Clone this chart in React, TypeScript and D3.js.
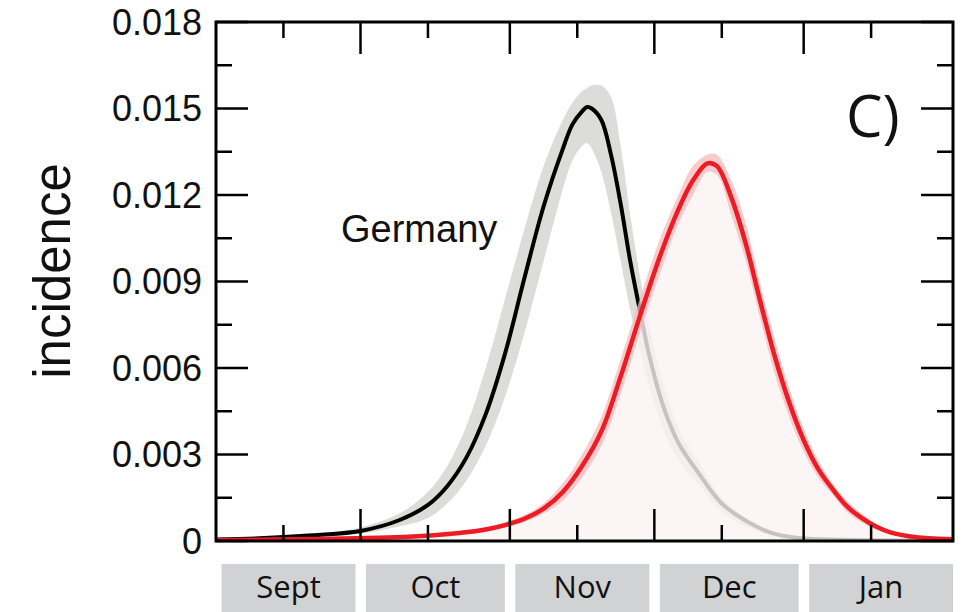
import React from "react";
import * as d3 from "d3";

// ---- data (days since 1 Sept) ----
const germanyDays = [0, 10, 20, 30, 38, 44, 48, 52, 56, 60, 64, 68, 72, 74, 76, 77, 78, 80, 82, 84, 86, 88, 90, 93, 96, 100, 105, 110, 115, 120, 130, 140, 153];
const germanyMid = [0.00005, 0.0001, 0.0002, 0.00035, 0.00072, 0.00125, 0.0019, 0.0029, 0.0044, 0.0065, 0.0091, 0.0116, 0.0136, 0.01445, 0.0149, 0.01505, 0.015, 0.0146, 0.0134, 0.0117, 0.0097, 0.008, 0.0064, 0.0046, 0.0034, 0.0024, 0.0013, 0.0007, 0.0003, 0.00012, 0.00004, 0.00002, 0.00001];
const germanyHi = [0.00008, 0.00013, 0.00024, 0.00047, 0.00095, 0.0017, 0.0026, 0.004, 0.006, 0.0084, 0.0108, 0.013, 0.0146, 0.0152, 0.0156, 0.0157, 0.0158, 0.0158, 0.0154, 0.0137, 0.0113, 0.0092, 0.0074, 0.0054, 0.0039, 0.0028, 0.0015, 0.0008, 0.00035, 0.00015, 0.00006, 0.00003, 0.00001];
const germanyLo = [0.00003, 0.00007, 0.00014, 0.00025, 0.0005, 0.0008, 0.0013, 0.0021, 0.0033, 0.005, 0.0072, 0.0097, 0.0122, 0.0132, 0.0137, 0.0138, 0.0136, 0.0128, 0.0114, 0.0097, 0.008, 0.0066, 0.0053, 0.0038, 0.0028, 0.002, 0.001, 0.0005, 0.0002, 0.00008, 0.00003, 0.00001, 0.00001];

const otherDays = [0, 20, 40, 50, 56, 60, 64, 68, 72, 76, 80, 84, 88, 92, 96, 99, 102, 104, 107, 110, 113, 116, 119, 122, 125, 128, 131, 134, 137, 140, 145, 150, 153];
const otherMid = [0.00003, 0.00007, 0.00015, 0.00027, 0.0004, 0.00055, 0.00077, 0.00112, 0.0017, 0.0026, 0.0038, 0.0057, 0.0078, 0.0098, 0.0115, 0.0125, 0.0131, 0.013, 0.0119, 0.0103, 0.0083, 0.0064, 0.0048, 0.0035, 0.0025, 0.0018, 0.0012, 0.0008, 0.0005, 0.0003, 0.00014, 0.00008, 0.00006];
const otherHi = [0.00004, 0.00009, 0.00019, 0.00033, 0.00048, 0.00065, 0.0009, 0.0013, 0.002, 0.003, 0.0043, 0.0063, 0.0084, 0.0104, 0.012, 0.013, 0.0134, 0.0134, 0.0125, 0.011, 0.0089, 0.007, 0.0053, 0.0039, 0.0028, 0.002, 0.0014, 0.00095, 0.0006, 0.00035, 0.00017, 0.0001, 0.00008];
const otherLo = [0.00002, 0.00005, 0.00012, 0.00022, 0.00033, 0.00046, 0.00065, 0.00095, 0.0014, 0.0022, 0.0033, 0.0051, 0.0072, 0.0092, 0.011, 0.012, 0.0128, 0.0127, 0.0113, 0.0097, 0.0077, 0.0058, 0.0043, 0.0031, 0.0022, 0.0016, 0.001, 0.00065, 0.0004, 0.00025, 0.00011, 0.00006, 0.00005];

const yTicks = [0, 0.003, 0.006, 0.009, 0.012, 0.015, 0.018];
const yTickLabels = ["0", "0.003", "0.006", "0.009", "0.012", "0.015", "0.018"];
const yMinorTicks = [0.0015, 0.0045, 0.0075, 0.0105, 0.0135, 0.0165];
const monthLabels = ["Sept", "Oct", "Nov", "Dec", "Jan"];

const seasonStart = new Date(Date.UTC(2009, 8, 1));
const seasonEnd = new Date(Date.UTC(2010, 1, 1));

const W = 969, H = 612;
const M = { left: 216, right: 953, top: 22, bottom: 541 };

export default function App() {
  const x = d3.scaleUtc().domain([seasonStart, seasonEnd]).range([M.left, M.right]);
  const y = d3.scaleLinear().domain([0, 0.018]).range([M.bottom, M.top]);
  const dx = (d: number) => x(d3.utcDay.offset(seasonStart, d));

  const curve = d3.curveCatmullRom.alpha(0.5);
  const band = (days: number[], lo: number[], hi: number[]) =>
    d3.area<number>().x((_, i) => dx(days[i])).y0((_, i) => y(lo[i])).y1((_, i) => y(hi[i])).curve(curve)(days)!;
  const line = (days: number[], v: number[]) =>
    d3.line<number>().x((_, i) => dx(days[i])).y((_, i) => y(v[i])).curve(curve)(days)!;
  const fillArea = d3.area<number>().x((_, i) => dx(otherDays[i])).y0(y(0)).y1((_, i) => y(otherMid[i])).curve(curve)(otherDays)!;

  const months = d3.utcMonth.range(seasonStart, seasonEnd);
  const monthMajor = months.slice(1);
  const monthMid = months.map((m) => d3.utcDay.offset(m, 14));

  const axisStroke = "#000";
  return (
    <svg width={W} height={H} style={{ position: "absolute", left: 0, top: 0, background: "#fff" }}>
      <defs>
        <clipPath id="plot">
          <rect x={M.left} y={M.top} width={M.right - M.left} height={M.bottom - M.top} />
        </clipPath>
      </defs>
      <g clipPath="url(#plot)">
        <path d={band(germanyDays, germanyLo, germanyHi)} fill="#dcdcdb" />
        <path d={line(germanyDays, germanyMid)} fill="none" stroke="#000" strokeWidth={4} />
        <path d={fillArea} fill="#fbf3f3" fillOpacity={0.8} />
        <path d={band(otherDays, otherLo, otherHi)} fill="#f6b9bb" fillOpacity={0.75} />
        <path d={line(otherDays, otherMid)} fill="none" stroke="#ed1c24" strokeWidth={4.5} />
      </g>
      {/* frame */}
      <rect x={M.left} y={M.top} width={M.right - M.left} height={M.bottom - M.top} fill="none" stroke={axisStroke} strokeWidth={3} />
      {/* y ticks */}
      {yTicks.map((t) => (
        <g key={"yt" + t}>
          <line x1={M.left} x2={M.left + 32} y1={y(t)} y2={y(t)} stroke={axisStroke} strokeWidth={2.5} />
          <line x1={M.right} x2={M.right - 32} y1={y(t)} y2={y(t)} stroke={axisStroke} strokeWidth={2.5} />
        </g>
      ))}
      {yMinorTicks.map((t) => (
        <g key={"ym" + t}>
          <line x1={M.left} x2={M.left + 16} y1={y(t)} y2={y(t)} stroke={axisStroke} strokeWidth={2.5} />
          <line x1={M.right} x2={M.right - 16} y1={y(t)} y2={y(t)} stroke={axisStroke} strokeWidth={2.5} />
        </g>
      ))}
      {yTicks.map((t, i) => (
        <text key={"yl" + t} x={202} y={y(t)} dy="0.36em" textAnchor="end" fontFamily="'Liberation Sans', Arial, sans-serif" fontSize={36} fill="#111">
          {yTickLabels[i]}
        </text>
      ))}
      {/* x ticks */}
      {monthMajor.map((m) => (
        <g key={"xm" + m.getTime()}>
          <line x1={x(m)} x2={x(m)} y1={M.bottom} y2={M.bottom - 32} stroke={axisStroke} strokeWidth={2.5} />
          <line x1={x(m)} x2={x(m)} y1={M.top} y2={M.top + 32} stroke={axisStroke} strokeWidth={2.5} />
        </g>
      ))}
      {monthMid.map((m) => (
        <g key={"xn" + m.getTime()}>
          <line x1={x(m)} x2={x(m)} y1={M.bottom} y2={M.bottom - 16} stroke={axisStroke} strokeWidth={2.5} />
          <line x1={x(m)} x2={x(m)} y1={M.top} y2={M.top + 16} stroke={axisStroke} strokeWidth={2.5} />
        </g>
      ))}
      {/* month boxes */}
      {months.map((m, i) => {
        const x0 = x(m) + 5.5;
        const next = i < months.length - 1 ? months[i + 1] : seasonEnd;
        const x1 = i < months.length - 1 ? x(next) - 5 : x(next);
        return (
          <g key={"mb" + i}>
            <rect x={x0} y={564} width={x1 - x0} height={48} fill="#d1d2d4" />
            <text x={(x0 + x1) / 2} y={598} textAnchor="middle" fontFamily="'Open Sans', sans-serif" fontSize={31} fill="#111">
              {monthLabels[i]}
            </text>
          </g>
        );
      })}
      {/* labels */}
      <text transform={`translate(70, 271) rotate(-90)`} textAnchor="middle" fontFamily="'Liberation Sans', Arial, sans-serif" fontSize={51} fill="#111">
        incidence
      </text>
      <text x={341} y={242} fontFamily="'Liberation Sans', Arial, sans-serif" fontSize={38} fill="#111">
        Germany
      </text>
      <text x={846} y={137} fontFamily="'Open Sans', sans-serif" fontSize={58} fill="#111">
        C)
      </text>
    </svg>
  );
}
